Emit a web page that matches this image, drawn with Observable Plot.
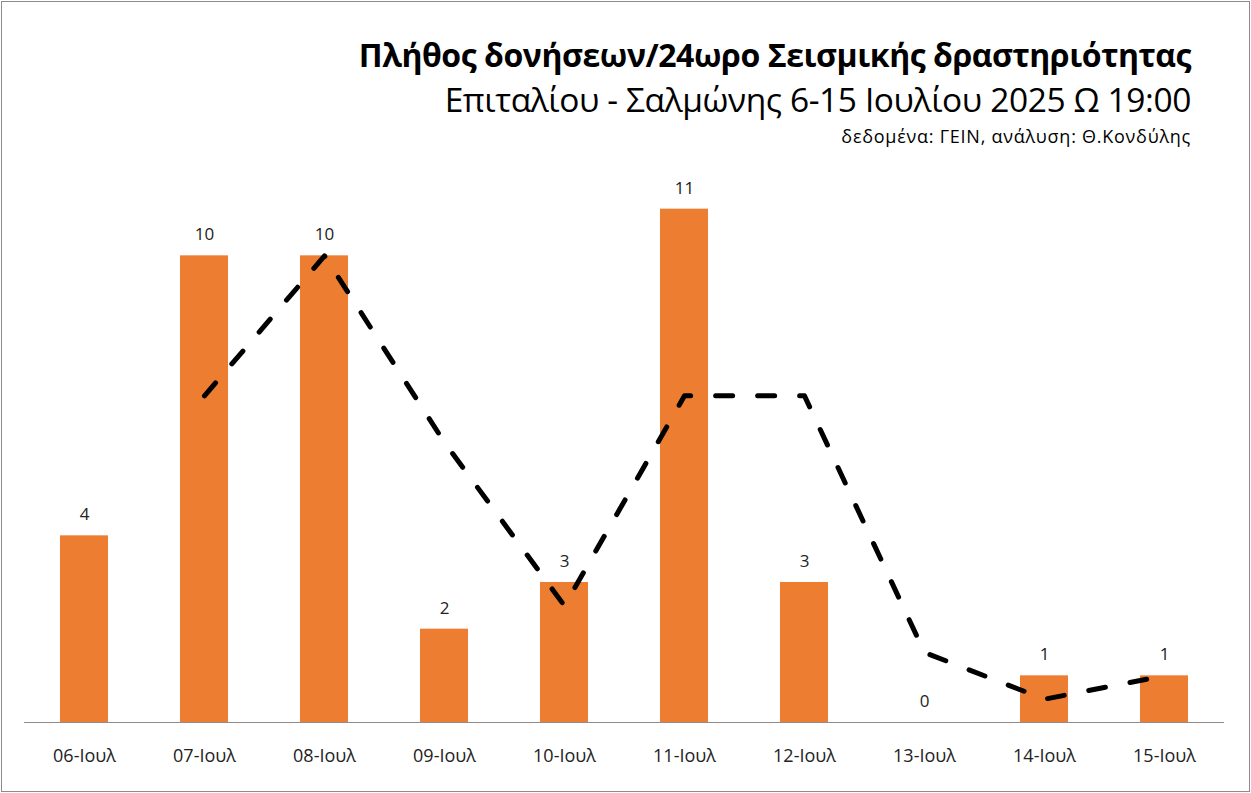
<!DOCTYPE html>
<html>
<head>
<meta charset="utf-8">
<script src="https://cdn.jsdelivr.net/npm/d3@7"></script>
<script src="https://cdn.jsdelivr.net/npm/@observablehq/plot@0.6"></script>
<style>
  html, body { margin: 0; padding: 0; background: #fff; }
  #frame { position: absolute; left: 1px; top: 1px; width: 1247px; height: 789px; border: 1px solid #8c8c8c; background: #fff; overflow: hidden; font-family: "Open Sans", "Noto Sans", sans-serif; }
  #header { height: 160px; position: relative; }
  #title { position: absolute; right: 58px; top: 31px; font-size: 32px; font-weight: 700; color: #000; white-space: nowrap; letter-spacing: -0.45px; }
  #subtitle { position: absolute; right: 58px; top: 74px; font-size: 33.5px; font-weight: 400; color: #000; white-space: nowrap; letter-spacing: -0.4px; }
  #source { position: absolute; right: 58px; top: 122px; font-size: 18px; color: #000; white-space: nowrap; letter-spacing: 0.75px; }
  #chart svg { display: block; }
</style>
</head>
<body>
<div id="frame">
  <div id="header">
    <div id="title">Πλήθος δονήσεων/24ωρο Σεισμικής δραστηριότητας</div>
    <div id="subtitle">Επιταλίου - Σαλμώνης 6-15 Ιουλίου 2025 Ω 19:00</div>
    <div id="source">δεδομένα: ΓΕΙΝ, ανάλυση: Θ.Κονδύλης</div>
  </div>
  <div id="chart"></div>
</div>
<script>
const days = ["06-Ιουλ", "07-Ιουλ", "08-Ιουλ", "09-Ιουλ", "10-Ιουλ", "11-Ιουλ", "12-Ιουλ", "13-Ιουλ", "14-Ιουλ", "15-Ιουλ"];
const counts = [4, 10, 10, 2, 3, 11, 3, 0, 1, 1];
const trendDays = ["07-Ιουλ", "08-Ιουλ", "09-Ιουλ", "10-Ιουλ", "11-Ιουλ", "12-Ιουλ", "13-Ιουλ", "14-Ιουλ", "15-Ιουλ"];
const trendValues = [7, 10, 6, 2.5, 7, 7, 1.5, 0.5, 1];

const bars = days.map((d, i) => ({day: d, value: counts[i]}));
const trend = trendDays.map((d, i) => ({day: d, value: trendValues[i]}));

const chart = Plot.plot({
  width: 1247,
  height: 629,
  marginTop: 0,
  marginBottom: 69,
  marginLeft: 22,
  marginRight: 25,
  style: {fontFamily: "'Open Sans', 'Noto Sans', sans-serif", background: "#fff", color: "#222"},
  x: {domain: days, paddingInner: 0.6, paddingOuter: 0.3, align: 0.5, label: null},
  y: {domain: [0, 12], axis: null},
  marks: [
    Plot.barY(bars, {x: "day", y: "value", fill: "#ED7D31"}),
    Plot.ruleY([0], {stroke: "#8c8c8c", strokeWidth: 1.2}),
    Plot.text(bars, {x: "day", y: "value", text: d => String(d.value), dy: -21, fontSize: 17, fill: "#222"}),
    Plot.line(trend, {x: "day", y: "value", curve: "linear", stroke: "#000", strokeWidth: 5, strokeDasharray: "17,25", strokeLinecap: "round", strokeLinejoin: "round"}),
    Plot.axisX({tickSize: 0, tickPadding: 27, fontSize: 18, fill: "#222", label: null})
  ]
});
document.getElementById("chart").appendChild(chart);
</script>
</body>
</html>
